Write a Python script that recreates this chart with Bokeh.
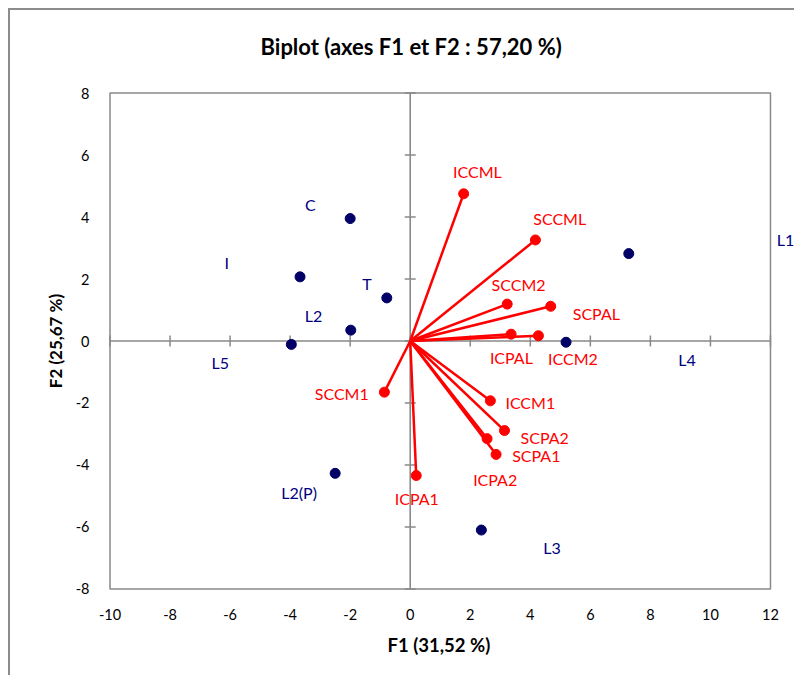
import math
from bokeh.plotting import figure
from bokeh.models import Range1d, FixedTicker, ColumnDataSource, Title
from bokeh.core.properties import value
from bokeh.embed import file_html
from bokeh.resources import INLINE

# ---- data ----
x_ticks = [-10, -8, -6, -4, -2, 0, 2, 4, 6, 8, 10, 12]
y_ticks = [-8, -6, -4, -2, 0, 2, 4, 6, 8]

obs_names = ["C", "I", "T", "L2", "L5", "L1", "L4", "L2(P)", "L3"]
obs_f1 = [-2.0, -3.67, -0.78, -1.98, -3.96, 7.28, 5.19, -2.5, 2.37]
obs_f2 = [3.95, 2.07, 1.39, 0.35, -0.11, 2.82, -0.04, -4.27, -6.1]
obs_label_f1 = [-3.33, -6.11, -1.44, -3.22, -6.33, 12.5, 9.22, -3.7, 4.72]
obs_label_f2 = [4.39, 2.54, 1.86, 0.82, -0.69, 3.26, -0.61, -4.88, -6.67]

var_names = ["ICCML", "SCCML", "SCCM2", "SCPAL", "ICPAL", "ICCM2",
             "SCCM1", "ICPA1", "ICCM1", "SCPA2", "ICPA2", "SCPA1"]
var_f1 = [1.78, 4.17, 3.23, 4.68, 3.36, 4.27, -0.86, 0.2, 2.67, 3.14, 2.56, 2.86]
var_f2 = [4.75, 3.26, 1.19, 1.12, 0.22, 0.17, -1.65, -4.34, -1.93, -2.89, -3.15, -3.66]
var_label_f1 = [2.24, 4.98, 3.61, 6.2, 3.37, 5.42, -2.28, 0.22, 4.0, 4.48, 2.83, 4.2]
var_label_f2 = [5.46, 3.96, 1.83, 0.89, -0.53, -0.56, -1.69, -5.07, -1.99, -3.11, -4.48, -3.71]

title_text = "Biplot (axes F1 et F2 : 57,20 %)"
x_title = "F1 (31,52 %)"
y_title = "F2 (25,67 %)"

# ---- styles ----
GRAY = "#898989"
NAVY_PT = "#000066"
NAVY_TX = "#000080"
RED = "#FF0000"
FONT = "Lato"

# x range is widened on the right so that the "L1" label (outside the box) is not clipped
p = figure(width=786, height=667, output_backend="svg", toolbar_location=None,
           x_range=Range1d(-10.05, 12.8), y_range=Range1d(-8.05, 8.05),
           min_border_left=98, min_border_right=2,
           min_border_top=81, min_border_bottom=87)
p.styles = {"margin-left": "8px", "margin-top": "8px",
            "border-left": "2px solid #8c8c8c", "border-top": "2px solid #8c8c8c"}

p.xgrid.visible = False
p.ygrid.visible = False
p.outline_line_color = None

# titles (spacer first: it sits closest to the frame)
p.add_layout(Title(text=" ", text_font_size="1px", standoff=29), "above")
p.add_layout(Title(text=title_text, text_font=FONT, text_font_size="22px",
                   text_font_style="bold", text_color="#000000",
                   align="left", offset=152, standoff=0), "above")

for ax, ticks in ((p.xaxis[0], x_ticks), (p.yaxis[0], y_ticks)):
    ax.ticker = FixedTicker(ticks=ticks)
    ax.major_label_overrides = {t: str(t) for t in ticks}
    ax.axis_line_color = None
    ax.major_tick_line_color = None
    ax.minor_tick_line_color = None
    ax.major_tick_in = 0
    ax.major_tick_out = 0
    ax.major_label_text_font = FONT
    ax.major_label_text_font_size = "14.5px"
    ax.major_label_text_color = "#000000"

p.xaxis[0].major_label_standoff = 18
p.yaxis[0].major_label_standoff = 19
p.yaxis[0].axis_label = y_title
p.yaxis[0].axis_label_text_font = FONT
p.yaxis[0].axis_label_text_font_size = "17px"
p.yaxis[0].axis_label_text_font_style = "bold"
p.yaxis[0].axis_label_text_color = "#000000"
p.yaxis[0].axis_label_standoff = 7

# x-axis title, centred under the box (not under the widened frame)
p.add_layout(Title(text=x_title, text_font=FONT, text_font_size="18.5px",
                   text_font_style="bold", text_color="#000000",
                   align="left", offset=279, vertical_align="top", standoff=22), "below")

# plot-area box, drawn in data space on the tick extremes
p.quad(left=[x_ticks[0]], right=[x_ticks[-1]], bottom=[y_ticks[0]], top=[y_ticks[-1]],
       fill_color=None, line_color=GRAY, line_width=1.5, level="underlay")

# zero axes with cross ticks
p.segment(x0=[x_ticks[0], 0], y0=[0, y_ticks[0]], x1=[x_ticks[-1], 0], y1=[0, y_ticks[-1]],
          line_color=GRAY, line_width=1.6, level="underlay")
p.scatter(x=x_ticks, y=[0] * len(x_ticks), marker="dash", angle=math.pi / 2,
          size=11, line_color=GRAY, line_width=1.5, level="underlay")
p.scatter(x=[0] * len(y_ticks), y=y_ticks, marker="dash",
          size=11, line_color=GRAY, line_width=1.5, level="underlay")

# variables (red vectors)
vsrc = ColumnDataSource(dict(x0=[0] * len(var_f1), y0=[0] * len(var_f2),
                             x=var_f1, y=var_f2, lx=var_label_f1, ly=var_label_f2,
                             name=var_names))
p.segment(x0="x0", y0="y0", x1="x", y1="y", source=vsrc, line_color=RED, line_width=2.5)
p.scatter(x="x", y="y", source=vsrc, size=10, fill_color=RED, line_color=RED)
p.text(x="lx", y="ly", text="name", source=vsrc, text_font=value(FONT),
       text_font_size=value("16px"), text_color=RED,
       text_align="center", text_baseline="middle")

# observations (navy points)
osrc = ColumnDataSource(dict(x=obs_f1, y=obs_f2, lx=obs_label_f1, ly=obs_label_f2,
                             name=obs_names))
p.scatter(x="x", y="y", source=osrc, size=10, fill_color=NAVY_PT, line_color=NAVY_PT)
p.text(x="lx", y="ly", text="name", source=osrc, text_font=value(FONT),
       text_font_size=value("16px"), text_color=NAVY_TX,
       text_align="center", text_baseline="middle")

open("out.html", "w").write(file_html(p, INLINE))
